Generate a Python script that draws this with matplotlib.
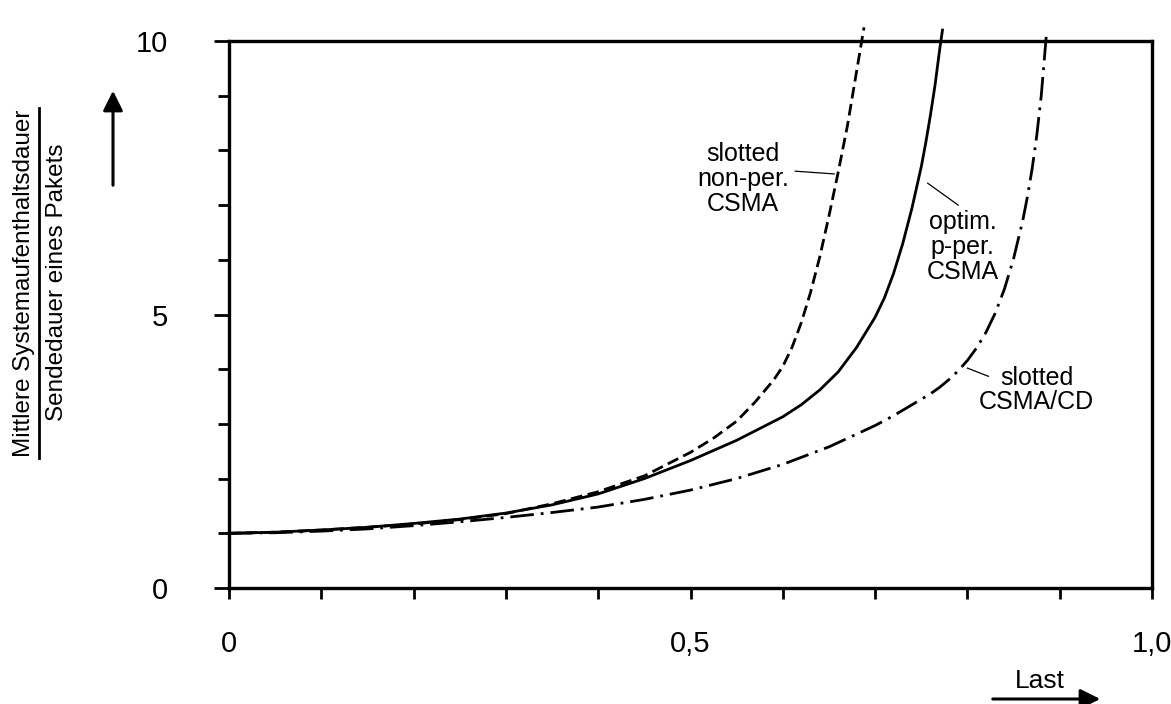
import matplotlib
matplotlib.use("Agg")
import matplotlib.pyplot as plt
from matplotlib.ticker import FixedLocator, MultipleLocator

plt.rcParams['font.family'] = ['Liberation Sans', 'DejaVu Sans']

# ---- data ----
x_nonper = [0.0, 0.05, 0.1, 0.15, 0.2, 0.25, 0.3, 0.35, 0.4, 0.45, 0.5, 0.525, 0.55,
            0.57, 0.59, 0.60, 0.61, 0.62, 0.63, 0.64, 0.65, 0.66, 0.67, 0.675, 0.68,
            0.685, 0.688]
y_nonper = [1.0, 1.02, 1.06, 1.11, 1.17, 1.25, 1.36, 1.54, 1.76, 2.05, 2.48, 2.74, 3.05,
            3.4, 3.8, 4.05, 4.4, 4.85, 5.4, 6.05, 6.8, 7.6, 8.45, 8.95, 9.45,
            9.95, 10.25]

x_pper = [0.0, 0.05, 0.1, 0.15, 0.2, 0.25, 0.3, 0.35, 0.4, 0.45, 0.5, 0.55, 0.6,
          0.62, 0.64, 0.66, 0.68, 0.70, 0.71, 0.72, 0.73, 0.74, 0.75, 0.755, 0.76,
          0.765, 0.77, 0.773]
y_pper = [1.0, 1.02, 1.06, 1.11, 1.18, 1.26, 1.37, 1.52, 1.72, 2.0, 2.33, 2.7, 3.13,
          3.35, 3.62, 3.95, 4.4, 4.95, 5.3, 5.75, 6.3, 6.95, 7.7, 8.15, 8.65,
          9.2, 9.85, 10.2]

x_cd = [0.0, 0.05, 0.1, 0.15, 0.2, 0.25, 0.3, 0.35, 0.4, 0.45, 0.5, 0.55, 0.6, 0.65,
        0.7, 0.72, 0.74, 0.76, 0.77, 0.78, 0.79, 0.80, 0.81, 0.82, 0.83, 0.84, 0.85,
        0.86, 0.865, 0.87, 0.875, 0.88, 0.884, 0.886]
y_cd = [1.0, 1.01, 1.04, 1.08, 1.14, 1.21, 1.29, 1.38, 1.48, 1.62, 1.79, 2.0, 2.26, 2.58,
        2.97, 3.15, 3.35, 3.55, 3.67, 3.81, 3.97, 4.16, 4.39, 4.67, 5.02, 5.46, 6.02,
        6.72, 7.15, 7.65, 8.25, 9.0, 9.8, 10.2]

x_ticks = [0.0, 0.5, 1.0]
x_ticklabels = ["0", "0,5", "1,0"]
y_ticks = [0, 5, 10]
y_ticklabels = ["0", "5", "10"]

W, H = 1171, 704
fig = plt.figure(figsize=(W / 100, H / 100), dpi=100)
ax = fig.add_axes([229 / W, 1 - 588 / H, (1152 - 229) / W, (588 - 41) / H])

ax.plot(x_nonper, y_nonper, color='black', lw=2.0, ls=(0, (4.2, 2.0)), clip_on=False)
ax.plot(x_pper, y_pper, color='black', lw=2.0, ls='-', clip_on=False)
ax.plot(x_cd, y_cd, color='black', lw=2.0, ls=(0, (8.5, 2.5, 1, 2.5)), clip_on=False)

ax.set_xlim(0, 1.0)
ax.set_ylim(0, 10)
for s in ax.spines.values():
    s.set_linewidth(2.4)
    s.set_color('black')

ax.xaxis.set_major_locator(FixedLocator(x_ticks))
ax.set_xticklabels(x_ticklabels)
ax.xaxis.set_minor_locator(MultipleLocator(0.1))
ax.yaxis.set_major_locator(FixedLocator(y_ticks))
ax.set_yticklabels(y_ticklabels)
ax.yaxis.set_minor_locator(MultipleLocator(1))

ax.tick_params(axis='x', which='both', direction='out', length=8, width=2, pad=22,
               labelsize=21)
ax.tick_params(axis='y', which='major', direction='out', length=11, width=2, pad=33,
               labelsize=21)
ax.tick_params(axis='y', which='minor', direction='out', length=8, width=2)

# curve labels
fs = 18
ax.text(0.557, 7.48, "slotted\nnon-per.\nCSMA", ha='center', va='center',
        fontsize=fs, linespacing=1.05)
ax.plot([0.6135, 0.6557], [7.62, 7.57], color='black', lw=0.9)

ax.text(0.795, 6.23, "optim.\np-per.\nCSMA", ha='center', va='center',
        fontsize=fs, linespacing=1.05)
ax.plot([0.757, 0.790], [7.40, 7.0], color='black', lw=0.9)

ax.text(0.875, 3.62, "slotted\nCSMA/CD", ha='center', va='center',
        fontsize=fs, linespacing=1.05)
ax.plot([0.8, 0.8228], [4.02, 3.87], color='black', lw=0.9)

# y-axis label as a fraction
def fx(px):
    return px / W

def fy(py):
    return 1 - py / H

fig.text(fx(24), fy(283), "Mittlere Systemaufenthaltsdauer", rotation=90,
         ha='center', va='center', fontsize=17.5)
fig.text(fx(57), fy(282), "Sendedauer eines Pakets", rotation=90,
         ha='center', va='center', fontsize=17.5)
fig.add_artist(plt.Line2D([fx(39), fx(39)], [fy(108), fy(458)], color='black', lw=2.0))

# arrows
fig.add_artist(matplotlib.patches.FancyArrowPatch(
    (fx(113), fy(188)), (fx(113), fy(88)), transform=fig.transFigure,
    arrowstyle='-|>,head_length=8,head_width=4', mutation_scale=1.5,
    color='black', lw=2.2))
fig.add_artist(matplotlib.patches.FancyArrowPatch(
    (fx(990), fy(699)), (fx(1103), fy(699)), transform=fig.transFigure,
    arrowstyle='-|>,head_length=8,head_width=4', mutation_scale=1.5,
    color='black', lw=2.2))
fig.text(fx(1040), fy(681), "Last", ha='center', va='center', fontsize=19)

fig.savefig("out.png", dpi=100, facecolor='white')
